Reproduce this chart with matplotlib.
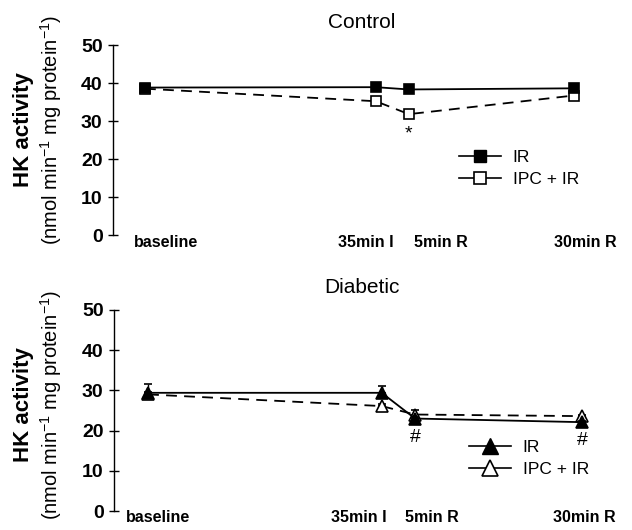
import matplotlib
matplotlib.use("Agg")
import matplotlib.pyplot as plt
from matplotlib.lines import Line2D

plt.rcParams['font.family'] = ['Liberation Sans', 'DejaVu Sans']
plt.rcParams['mathtext.fontset'] = 'custom'
plt.rcParams['mathtext.rm'] = 'Liberation Sans'
plt.rcParams['mathtext.it'] = 'Liberation Sans:italic'
plt.rcParams['mathtext.bf'] = 'Liberation Sans:bold'

# ---- data ----
time_points = [0, 35, 40, 65]          # minutes: baseline, 35min I, 5min R, 30min R
tick_labels = ["baseline", "35min I", "5min R", "30min R"]
series_labels = ["IR", "IPC + IR"]

control_ir = [38.8, 38.9, 38.3, 38.6]
control_ipc = [38.5, 35.2, 31.8, 36.7]
control_ir_err = [0.5, 0.8, 0.3, 0.6]
control_ipc_err = [0.3, 0.4, 0.4, 0.3]

diab_ir = [29.4, 29.4, 23.0, 22.1]
diab_ipc = [29.0, 26.1, 24.0, 23.6]
diab_ir_err = [2.2, 1.7, 0.4, 0.4]
diab_ipc_err = [0.5, 0.5, 1.1, 0.4]

control_sig = [(40, 26.6, "*")]
diab_sig = [(40, 18.2, "#"), (65, 17.6, "#")]

yticks = [0, 10, 20, 30, 40, 50]

fig = plt.figure(figsize=(6.32, 5.3), dpi=100)

W, H = 632, 530


def make_ax(left, right, top, bottom):
    return fig.add_axes([left / W, 1 - bottom / H, (right - left) / W, (bottom - top) / H])


ax1 = make_ax(113, 610, 45, 235)
ax2 = make_ax(114, 610, 310, 511)


def style(ax, title, xlim, label_pos, xpad):
    ax.set_ylim(0, 50)
    ax.set_xlim(*xlim)
    ax.set_yticks(yticks)
    ax.set_yticklabels([str(v) for v in yticks], fontsize=14, fontweight='bold')
    ax.tick_params(axis='y', direction='inout', length=7, width=1, pad=4)
    for s in ['top', 'right', 'bottom']:
        ax.spines[s].set_visible(False)
    ax.spines['left'].set_linewidth(1)
    ax.set_xticks(label_pos)
    ax.set_xticklabels(tick_labels, fontsize=11.5, fontweight='bold')
    ax.tick_params(axis='x', length=0, pad=xpad)
    ax.set_title(title, fontsize=15, pad=12)
    ax.patch.set_alpha(0)


def draw(ax, ir, ipc, ir_err, ipc_err, marker, ms):
    ax.errorbar(time_points, ipc, yerr=[[0] * 4, ipc_err], color='black', lw=1.3,
                ls=(0, (6, 4)), marker=marker, ms=ms, mfc='white', mec='black', mew=1.2,
                capsize=3, elinewidth=1, capthick=1, zorder=3)
    ax.errorbar(time_points, ir, yerr=[[0] * 4, ir_err], color='black', lw=1.3,
                ls='-', marker=marker, ms=ms, mfc='black', mec='black', mew=1.2,
                capsize=3, elinewidth=1, capthick=1, zorder=4)


style(ax1, "Control", (-4.85, 70.5), [3.2, 33.5, 44.8, 66.8], 0)
style(ax2, "Diabetic", (-5.1, 69.2), [1.5, 31.6, 42.5, 65.4], -1)

draw(ax1, control_ir, control_ipc, control_ir_err, control_ipc_err, 's', 7)
draw(ax2, diab_ir, diab_ipc, diab_ir_err, diab_ipc_err, '^', 9)

for x, y, s in control_sig:
    ax1.text(x, y, s, ha='center', va='center', fontsize=14)
for x, y, s in diab_sig:
    ax2.text(x, y, s, ha='center', va='center', fontsize=14)


def legend(ax, marker, ms, anchor):
    h = [Line2D([], [], color='black', lw=1.2, marker=marker, ms=ms, mfc='black', mec='black'),
         Line2D([], [], color='black', lw=1.2, marker=marker, ms=ms, mfc='white', mec='black', mew=1.2)]
    ax.legend(h, series_labels, loc='upper left', bbox_to_anchor=anchor, frameon=False,
              fontsize=12.5, handlelength=2.4, handletextpad=0.7, labelspacing=0.4,
              borderaxespad=0, borderpad=0)


legend(ax1, 's', 8, ((459 - 113) / 497, (235 - 150) / 190))
legend(ax2, '^', 11, ((469 - 114) / 496, (511 - 440) / 201))

# y labels
for cy in (130, 405):
    fig.text(23 / W, 1 - cy / H, "HK activity", rotation=90, ha='center', va='center',
             fontsize=16, fontweight='bold')
    fig.text(51 / W, 1 - cy / H, r"(nmol min$^{-1}$ mg protein$^{-1}$)", rotation=90,
             ha='center', va='center', fontsize=14.5)

fig.savefig("out.png", dpi=100)
